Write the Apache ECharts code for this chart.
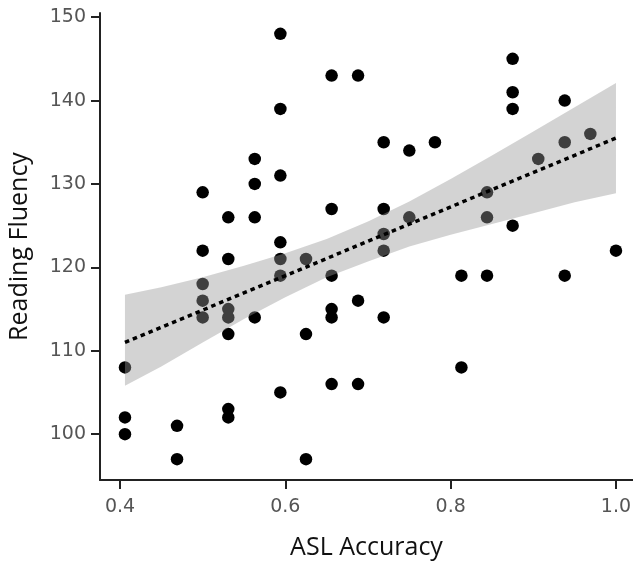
<!DOCTYPE html>
<html>
<head>
<meta charset="utf-8">
<script src="https://cdn.jsdelivr.net/npm/echarts@6/dist/echarts.min.js"></script>
<style>
html,body{margin:0;padding:0;background:#fff;}
#chart{width:633px;height:561px;}
</style>
</head>
<body>
<div id="chart"></div>
<script>
// ASL accuracy (x) and reading fluency (y) for each participant
var aslAccuracy = [
  0.406, 0.406, 0.406,
  0.469, 0.469,
  0.5, 0.5, 0.5, 0.5, 0.5,
  0.531, 0.531, 0.531, 0.531, 0.531, 0.531, 0.531,
  0.563, 0.563, 0.563, 0.563,
  0.594, 0.594, 0.594, 0.594, 0.594, 0.594, 0.594,
  0.625, 0.625, 0.625,
  0.656, 0.656, 0.656, 0.656, 0.656, 0.656,
  0.688, 0.688, 0.688,
  0.719, 0.719, 0.719, 0.719, 0.719,
  0.75, 0.75,
  0.781,
  0.813, 0.813,
  0.844, 0.844, 0.844,
  0.875, 0.875, 0.875, 0.875,
  0.906,
  0.938, 0.938, 0.938,
  0.969,
  1.0
];
var readingFluency = [
  108, 102, 100,
  101, 97,
  129, 122, 118, 116, 114,
  126, 121, 115, 114, 112, 103, 102,
  133, 130, 126, 114,
  148, 139, 131, 123, 121, 119, 105,
  121, 112, 97,
  143, 127, 119, 115, 114, 106,
  143, 116, 106,
  135, 127, 124, 122, 114,
  134, 126,
  135,
  119, 108,
  129, 126, 119,
  145, 141, 139, 125,
  133,
  140, 135, 119,
  136,
  122
];
// regression line end points
var fitX = [0.406, 1.0];
var fitY = [111.0, 135.5];
// confidence band edges
var bandX     = [0.406, 0.45, 0.5, 0.55, 0.6, 0.65, 0.7, 0.75, 0.8, 0.85, 0.9, 0.95, 1.0];
var bandUpper = [116.7, 117.6, 118.8, 120.2, 121.7, 123.4, 125.5, 127.9, 130.6, 133.4, 136.3, 139.2, 142.1];
var bandLower = [105.8, 108.1, 111.0, 113.8, 116.4, 118.8, 120.7, 122.5, 123.9, 125.2, 126.5, 127.8, 128.9];
// tick labels
var xTicks = [0.4, 0.6, 0.8, 1.0];
var yTicks = [100, 110, 120, 130, 140, 150];

var points = aslAccuracy.map(function (x, i) { return [x, readingFluency[i]]; });
var fitLine = fitX.map(function (x, i) { return [x, fitY[i]]; });

var chart = echarts.init(document.getElementById('chart'), null, {renderer: 'canvas'});
var TICK_FONT = '"DejaVu Sans", Verdana, sans-serif';
var TITLE_FONT = '"Open Sans", "DejaVu Sans", sans-serif';
var axisLineStyle = {color: '#222', width: 2};

chart.setOption({
  animation: false,
  backgroundColor: '#fff',
  grid: {left: 100, right: 0, top: 13, bottom: 81, containLabel: false, outerBoundsMode: 'none'},
  xAxis: {
    type: 'value',
    min: 0.3758,
    max: 1.0206,
    name: 'ASL Accuracy',
    nameLocation: 'middle',
    nameGap: 55,
    nameTextStyle: {fontFamily: TITLE_FONT, fontSize: 25, color: '#111'},
    axisLine: {show: true, lineStyle: axisLineStyle},
    axisTick: {show: true, length: 9, lineStyle: axisLineStyle, customValues: xTicks},
    axisLabel: {
      customValues: xTicks,
      margin: 18,
      fontFamily: TICK_FONT, fontSize: 19, color: '#555',
      formatter: function (v) { return Number(v).toFixed(1); }
    },
    splitLine: {show: false}
  },
  yAxis: {
    type: 'value',
    min: 94.5,
    max: 150.5,
    name: 'Reading Fluency',
    nameLocation: 'middle',
    nameGap: 68,
    nameTextStyle: {fontFamily: TITLE_FONT, fontSize: 25, color: '#111'},
    axisLine: {show: true, lineStyle: axisLineStyle},
    axisTick: {show: true, length: 9, lineStyle: axisLineStyle, customValues: yTicks},
    axisLabel: {
      customValues: yTicks,
      margin: 14,
      fontFamily: TICK_FONT, fontSize: 19, color: '#555'
    },
    splitLine: {show: false}
  },
  series: [
    {
      type: 'scatter',
      data: points,
      symbol: 'circle',
      symbolSize: 12.5,
      itemStyle: {color: '#000', opacity: 1},
      z: 2
    },
    {
      type: 'custom',
      data: [0],
      z: 3,
      silent: true,
      renderItem: function (params, api) {
        var pts = [];
        for (var i = 0; i < bandX.length; i++) pts.push(api.coord([bandX[i], bandUpper[i]]));
        for (var j = bandX.length - 1; j >= 0; j--) pts.push(api.coord([bandX[j], bandLower[j]]));
        return {
          type: 'polygon',
          shape: {points: pts},
          style: {fill: 'rgba(150,150,150,0.42)', stroke: null}
        };
      }
    },
    {
      type: 'line',
      data: fitLine,
      symbol: 'none',
      z: 4,
      lineStyle: {color: '#000', width: 3.5, type: [4.5, 4]}
    }
  ]
});
</script>
</body>
</html>
